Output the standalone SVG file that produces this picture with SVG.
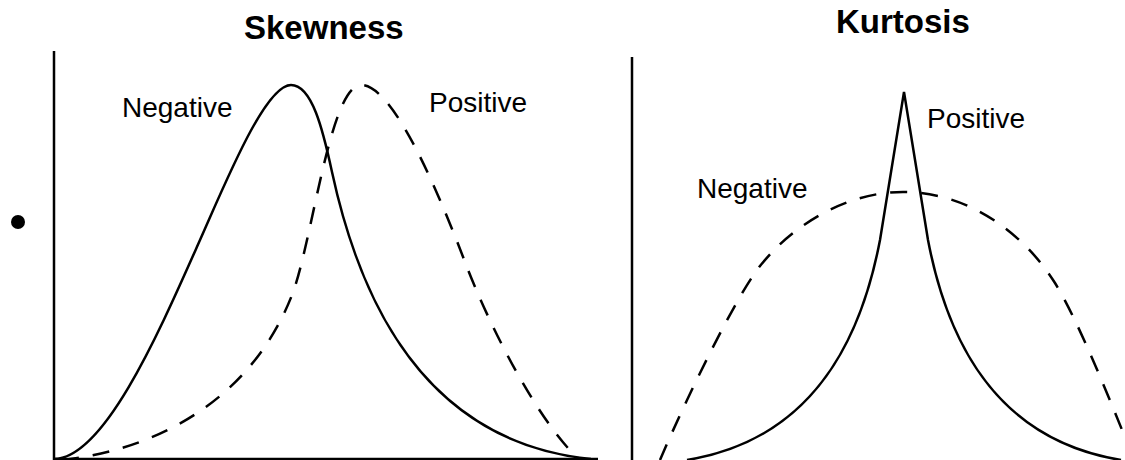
<svg xmlns="http://www.w3.org/2000/svg" width="1125" height="460" viewBox="0 0 1125 460">
<style>
.title{font-family:"Liberation Sans",Arial,sans-serif;font-weight:bold;font-size:33px;fill:#000}
.lbl{font-family:"Liberation Sans",Arial,sans-serif;font-size:28px;fill:#000}
.axis{stroke:#000;stroke-width:2.5;fill:none}
.solid{stroke:#000;stroke-width:2.5;fill:none}
.dashed{stroke:#000;stroke-width:2.5;fill:none;stroke-dasharray:17 14}
</style>
<rect width="1125" height="460" fill="#fff"/>
<circle id="bullet" cx="18" cy="222" r="7" fill="#000"/>
<g id="skewness">
  <text class="title" x="244" y="39">Skewness</text>
  <g id="skew-axes">
    <path class="axis" d="M54,51 L54,459 L598,459"/>
  </g>
  <g id="skew-negative">
    <path class="solid" d="M54,459 C105,458 160,330 200,240 C225,184 265,85 291,85 C312,85 323,130 332,172 C350,255 400,440 591,459"/>
    <text class="lbl" x="122" y="117">Negative</text>
  </g>
  <g id="skew-positive">
    <path class="dashed" d="M62,460 C170,448 255,390 292,295 C312,244 330,85 361,85 C390,85 430,170 465,262 C490,328 540,425 580,460"/>
    <text class="lbl" x="429" y="112">Positive</text>
  </g>
</g>
<g id="kurtosis">
  <text class="title" x="836" y="33">Kurtosis</text>
  <g id="kurt-axes">
    <path class="axis" d="M632,57 L632,460"/>
  </g>
  <g id="kurt-positive">
    <path class="solid" d="M687,460 C810,440 860,345 880,240 C890,180 897,135 904,92 C911,135 918,180 928,240 C948,345 998,440 1121,460"/>
    <text class="lbl" x="927" y="128">Positive</text>
  </g>
  <g id="kurt-negative">
    <path class="dashed" d="M660,460 C690,390 735,300 757,270 C785,232 840,192 903,192 C970,192 1025,235 1055,283 C1078,320 1110,400 1135,462"/>
    <text class="lbl" x="697" y="198">Negative</text>
  </g>
</g>
</svg>
